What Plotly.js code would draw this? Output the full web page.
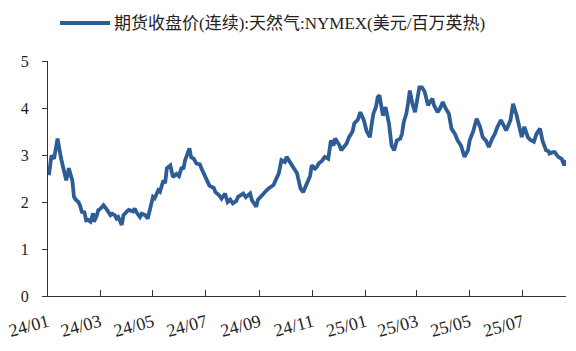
<!DOCTYPE html>
<html>
<head>
<meta charset="utf-8">
<script src="https://cdn.plot.ly/plotly-3.0.1.min.js"></script>
<style>html,body{margin:0;padding:0;background:#fff;}#chart{width:576px;height:351px;}</style>
</head>
<body>
<div id="chart"></div>
<script>
const seriesName = '期货收盘价(连续):天然气:NYMEX(美元/百万英热)';
const dates = [
'2024-01-02','2024-01-04','2024-01-05','2024-01-08','2024-01-10','2024-01-12','2024-01-16','2024-01-18','2024-01-19','2024-01-22',
'2024-01-24','2024-01-25','2024-01-29','2024-01-31','2024-02-02','2024-02-05','2024-02-07','2024-02-09','2024-02-12','2024-02-14',
'2024-02-16','2024-02-19','2024-02-22','2024-02-23','2024-02-26','2024-02-28','2024-03-01','2024-03-05','2024-03-08','2024-03-11',
'2024-03-13','2024-03-15','2024-03-18','2024-03-20','2024-03-22','2024-03-26','2024-03-28','2024-04-01','2024-04-03','2024-04-08',
'2024-04-10','2024-04-12','2024-04-16','2024-04-18','2024-04-22','2024-04-25','2024-04-29','2024-05-01','2024-05-03','2024-05-07',
'2024-05-09','2024-05-13','2024-05-15','2024-05-17','2024-05-21','2024-05-24','2024-05-28','2024-05-31','2024-06-03','2024-06-05',
'2024-06-07','2024-06-12','2024-06-14','2024-06-17','2024-06-20','2024-06-24','2024-06-26','2024-07-02','2024-07-05','2024-07-08',
'2024-07-10','2024-07-12','2024-07-16','2024-07-19','2024-07-23','2024-07-26','2024-07-29','2024-08-01','2024-08-05','2024-08-07',
'2024-08-09','2024-08-13','2024-08-16','2024-08-21','2024-08-23','2024-08-28','2024-08-30','2024-09-03','2024-09-06','2024-09-09',
'2024-09-12','2024-09-17','2024-09-19','2024-09-23','2024-09-26','2024-09-30','2024-10-02','2024-10-04','2024-10-08','2024-10-11',
'2024-10-14','2024-10-16','2024-10-18','2024-10-21','2024-10-25','2024-10-29','2024-10-31','2024-11-04','2024-11-06','2024-11-08',
'2024-11-12','2024-11-15','2024-11-19','2024-11-22','2024-11-25','2024-11-27','2024-12-02','2024-12-04','2024-12-06','2024-12-10',
'2024-12-13','2024-12-17','2024-12-19','2024-12-23','2024-12-26','2024-12-30','2025-01-02','2025-01-06','2025-01-08','2025-01-10',
'2025-01-13','2025-01-15','2025-01-17','2025-01-21','2025-01-23','2025-01-24','2025-01-28','2025-01-31','2025-02-03','2025-02-06',
'2025-02-10','2025-02-12','2025-02-14','2025-02-17','2025-02-19','2025-02-21','2025-02-24','2025-02-27','2025-03-04','2025-03-07',
'2025-03-10','2025-03-12','2025-03-14','2025-03-19','2025-03-21','2025-03-25','2025-03-28','2025-03-31','2025-04-03','2025-04-07',
'2025-04-10','2025-04-14','2025-04-17','2025-04-21','2025-04-23','2025-04-25','2025-04-29','2025-05-01','2025-05-05','2025-05-07',
'2025-05-09','2025-05-13','2025-05-16','2025-05-20','2025-05-23','2025-05-27','2025-05-30','2025-06-02','2025-06-06','2025-06-10',
'2025-06-12','2025-06-17','2025-06-20','2025-06-24','2025-06-26','2025-06-30','2025-07-03','2025-07-07','2025-07-10','2025-07-14',
'2025-07-17','2025-07-21','2025-07-24','2025-07-28','2025-07-31','2025-08-01','2025-08-05','2025-08-07','2025-08-11','2025-08-13',
'2025-08-15','2025-08-18','2025-08-20'
];
const prices = [
2.57,2.80,2.99,2.92,3.17,3.35,2.93,2.78,2.64,2.46,
2.62,2.72,2.46,2.11,2.05,2.00,1.92,1.79,1.78,1.61,
1.62,1.58,1.76,1.58,1.70,1.83,1.85,1.93,1.86,1.78,
1.72,1.75,1.72,1.65,1.68,1.51,1.72,1.80,1.83,1.80,
1.86,1.78,1.68,1.75,1.72,1.65,1.97,2.11,2.08,2.25,
2.22,2.46,2.40,2.72,2.78,2.53,2.60,2.55,2.74,2.70,
2.89,3.14,2.95,2.92,2.82,2.80,2.71,2.46,2.35,2.32,
2.30,2.21,2.15,2.07,2.18,2.00,2.05,1.97,2.02,2.11,
2.14,2.18,2.10,2.18,2.04,1.90,2.05,2.14,2.20,2.25,
2.30,2.36,2.45,2.61,2.89,2.85,2.96,2.90,2.78,2.70,
2.61,2.45,2.29,2.21,2.39,2.55,2.78,2.71,2.75,2.82,
2.88,2.96,2.92,3.31,3.20,3.35,3.20,3.10,3.15,3.24,
3.38,3.50,3.67,3.75,3.91,3.74,3.52,3.38,3.65,3.88,
4.02,4.23,4.27,3.84,3.95,4.02,3.67,3.20,3.10,3.31,
3.35,3.45,3.70,3.88,4.10,4.37,4.09,3.91,4.44,4.44,
4.35,4.20,4.06,4.20,4.05,3.91,4.00,4.13,4.00,3.88,
3.56,3.45,3.31,3.20,3.10,2.96,3.10,3.31,3.50,3.67,
3.77,3.60,3.38,3.30,3.17,3.35,3.45,3.60,3.74,3.60,
3.52,3.74,4.09,3.85,3.67,3.38,3.60,3.38,3.32,3.28,
3.45,3.56,3.30,3.10,3.08,3.03,3.06,3.06,2.96,2.95,
2.92,2.78,2.89
];
const yTickVals = [0,1,2,3,4,5];

const W = 576, H = 351, ML = 48, MR = 10, MT = 61, MB = 55;
const PW = W - ML - MR, PH = H - MT - MB;
const px2x = p => (p - ML) / PW;
const py2y = p => (H - MB - p) / PH;

const trace = {
  x: dates, y: prices, type: 'scatter', mode: 'lines', name: seriesName,
  line: {color: '#2E5D96', width: 3.8}, showlegend: false, hoverinfo: 'skip'
};
const serif = 'Liberation Serif, "Times New Roman", serif';
const layout = {
  width: W, height: H,
  margin: {l: ML, r: MR, t: MT, b: MB, pad: 0},
  paper_bgcolor: '#fff', plot_bgcolor: '#fff',
  showlegend: false,
  xaxis: {
    type: 'date', range: ['2024-01-01', '2025-08-20'],
    tick0: '2024-01-01', dtick: 'M2', tickformat: '%y/%m',
    ticks: 'inside', ticklen: 6, tickwidth: 1, tickcolor: '#333',
    showline: true, linecolor: '#333', linewidth: 1,
    showgrid: false, zeroline: false, tickangle: -15,
    tickfont: {family: serif, size: 18, color: '#222'},
    automargin: false, ticklabelstandoff: 8
  },
  yaxis: {
    range: [0, 5], tickvals: yTickVals, ticktext: yTickVals.map(String),
    ticks: 'outside', ticklen: 5, tickwidth: 1, tickcolor: '#333',
    showline: true, linecolor: '#333', linewidth: 1,
    showgrid: false, zeroline: false,
    tickfont: {family: serif, size: 16, color: '#222'},
    automargin: false, ticklabelstandoff: 10
  },
  shapes: [{
    type: 'line', xref: 'paper', yref: 'paper',
    x0: px2x(60), x1: px2x(110), y0: py2y(23), y1: py2y(23),
    line: {color: '#2E5D96', width: 3.8}
  }],
  annotations: [{
    xref: 'paper', yref: 'paper', x: px2x(112), y: py2y(23),
    xanchor: 'left', yanchor: 'middle', showarrow: false,
    text: seriesName,
    font: {family: 'Liberation Serif, "Noto Sans CJK SC", serif', size: 17, color: '#222'}
  }]
};
Plotly.newPlot('chart', [trace], layout, {staticPlot: true, displayModeBar: false});
</script>
</body>
</html>
